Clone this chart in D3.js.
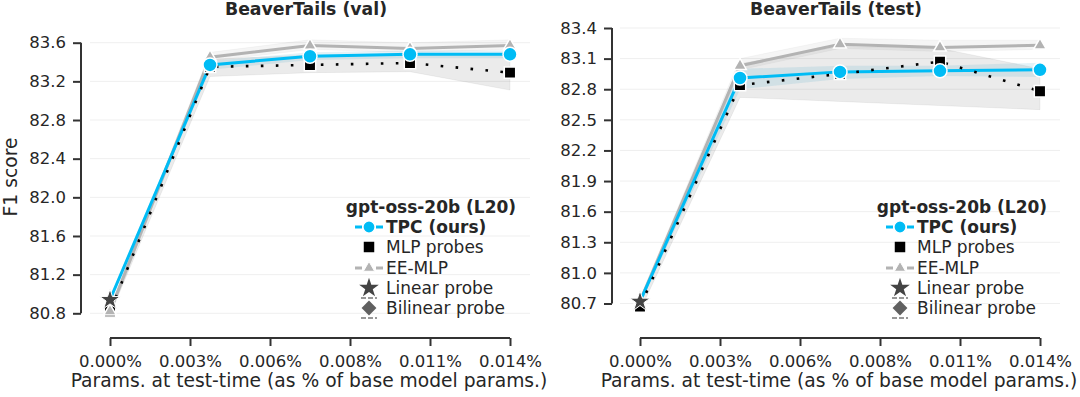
<!DOCTYPE html>
<html>
<head>
<meta charset="utf-8">
<script src="https://cdn.jsdelivr.net/npm/d3@7"></script>
<style>
  body { margin: 0; background: #fff; }
  text { font-family: "DejaVu Sans", sans-serif; fill: #262626; }
</style>
</head>
<body>
<script>
// x positions, in % of base model params
var xVals = [0, 0.0035, 0.007, 0.0105, 0.014];
var xTickVals = [0, 0.0028, 0.0056, 0.0084, 0.0112, 0.014];
var xTickLabels = ["0.000%", "0.003%", "0.006%", "0.008%", "0.011%", "0.014%"];

// BeaverTails (val)
var valYTicks = [80.8, 81.2, 81.6, 82.0, 82.4, 82.8, 83.2, 83.6];
var valTpc = [80.94, 83.37, 83.46, 83.48, 83.48];
var valTpcLo = [80.91, 83.32, 83.42, 83.44, 83.44];
var valTpcHi = [80.97, 83.41, 83.50, 83.52, 83.52];
var valMlp = [80.82, 83.35, 83.37, 83.39, 83.29];
var valMlpLo = [80.78, 83.25, 83.29, 83.30, 83.11];
var valMlpHi = [80.86, 83.43, 83.47, 83.47, 83.47];
var valEe = [80.82, 83.45, 83.57, 83.54, 83.57];
var valEeLo = [80.78, 83.41, 83.53, 83.50, 83.53];
var valEeHi = [80.86, 83.50, 83.63, 83.60, 83.63];
var valLinear = 80.94;

// BeaverTails (test)
var testYTicks = [80.7, 81.0, 81.3, 81.6, 81.9, 82.2, 82.5, 82.8, 83.1, 83.4];
var testTpc = [80.72, 82.91, 82.97, 82.98, 82.99];
var testTpcLo = [80.69, 82.80, 82.90, 82.93, 82.92];
var testTpcHi = [80.75, 83.00, 83.03, 83.03, 83.06];
var testMlp = [80.67, 82.84, 82.95, 83.07, 82.78];
var testMlpLo = [80.63, 82.72, 82.68, 82.64, 82.60];
var testMlpHi = [80.71, 83.05, 83.22, 83.20, 83.00];
var testEe = [80.72, 83.03, 83.24, 83.21, 83.23];
var testEeLo = [80.69, 82.99, 83.20, 83.17, 83.19];
var testEeHi = [80.75, 83.10, 83.30, 83.28, 83.28];
var testLinear = 80.72;

var legendTitle = "gpt-oss-20b (L20)";
var legendLabels = ["TPC", "MLP probes", "EE-MLP", "Linear probe", "Bilinear probe"];

var blue = "#00bcf5",
    grey = "#b3b3b3",
    dark = "#333";

var svg = d3.select("body").append("svg")
    .attr("width", 1080)
    .attr("height", 397);

function zip(lo, hi) {
    return xVals.map(function(x, i) { return {x: x, lo: lo[i], hi: hi[i]}; });
}

function pts(vals) {
    return xVals.map(function(x, i) { return {x: x, y: vals[i]}; });
}

function drawPanel(p) {
    var g = svg.append("g");
    var x = d3.scaleLinear().domain([-0.0007, 0.0147]).range([p.left, p.left + 440]);
    var y = d3.scaleLinear().domain(p.yDomain).range(p.yRange);

    // grid
    g.selectAll("line.grid").data(p.yTicks).enter().append("line")
        .attr("x1", p.left).attr("x2", p.left + 440)
        .attr("y1", function(d) { return y(d); })
        .attr("y2", function(d) { return y(d); })
        .attr("stroke", "#efefef").attr("stroke-width", 1);

    // y axis, offset and trimmed
    var yAxis = d3.axisLeft(y).tickValues(p.yTicks).tickFormat(d3.format(".1f"))
        .tickSize(8).tickPadding(7);
    var ya = g.append("g").attr("transform", "translate(" + (p.left - p.spineOff) + ",0)").call(yAxis);
    ya.select(".domain").attr("d", "M0," + y(p.yTicks[0]) + "V" + y(p.yTicks[p.yTicks.length - 1]));

    // x axis
    var xAxis = d3.axisBottom(x).tickValues(xTickVals)
        .tickFormat(function(d, i) { return xTickLabels[i]; })
        .tickSize(8).tickPadding(9);
    var xa = g.append("g").attr("transform", "translate(0,338)").call(xAxis);
    xa.select(".domain").attr("d", "M" + x(0) + ",0H" + x(0.014));

    [ya, xa].forEach(function(a) {
        a.selectAll(".domain, .tick line").attr("stroke", dark).attr("stroke-width", 2);
        a.selectAll(".tick text").style("font-size", "16.5px").attr("fill", "#262626")
            .style("font-family", "DejaVu Sans");
    });

    g.append("text").attr("x", x(0.007) - 1).attr("y", 387).attr("text-anchor", "middle")
        .style("font-size", "18.7px").text("Params. at test-time (as % of base model params.)");

    g.append("text").attr("x", x(0.007) - 4).attr("y", 15).attr("text-anchor", "middle")
        .style("font-size", "17.3px").style("font-weight", "bold").text(p.title);

    // bands
    var area = d3.area()
        .x(function(d) { return x(d.x); })
        .y0(function(d) { return y(d.lo); })
        .y1(function(d) { return y(d.hi); });
    g.append("path").attr("d", area(zip(p.eeLo, p.eeHi)))
        .attr("fill", "#000").attr("fill-opacity", 0.04)
        .attr("stroke", "#000").attr("stroke-opacity", 0.03);
    g.append("path").attr("d", area(zip(p.mlpLo, p.mlpHi)))
        .attr("fill", "#000").attr("fill-opacity", 0.08)
        .attr("stroke", "#000").attr("stroke-opacity", 0.05);
    g.append("path").attr("d", area(zip(p.tpcLo, p.tpcHi)))
        .attr("fill", "#3aa0c8").attr("fill-opacity", 0.14);

    var line = d3.line()
        .x(function(d) { return x(d.x); })
        .y(function(d) { return y(d.y); });

    g.append("path").attr("d", line(pts(p.ee)))
        .attr("fill", "none").attr("stroke", grey).attr("stroke-width", 3);
    g.append("path").attr("d", line(pts(p.tpc)))
        .attr("fill", "none").attr("stroke", blue).attr("stroke-width", 3);
    g.append("path").attr("d", line(pts(p.mlp)))
        .attr("fill", "none").attr("stroke", "#000").attr("stroke-width", 2.6)
        .attr("stroke-dasharray", "2.6 12.4");

    // markers
    g.selectAll("path.sq").data(pts(p.mlp)).enter().append("path")
        .attr("d", d3.symbol().type(d3.symbolSquare).size(130))
        .attr("transform", function(d) { return "translate(" + x(d.x) + "," + y(d.y) + ")"; })
        .attr("fill", "#000").attr("stroke", "#fff").attr("stroke-width", 1.5);
    g.selectAll("path.tri").data(pts(p.ee)).enter().append("path")
        .attr("d", d3.symbol().type(d3.symbolTriangle).size(70))
        .attr("transform", function(d) { return "translate(" + x(d.x) + "," + y(d.y) + ")"; })
        .attr("fill", grey).attr("stroke", "#fff").attr("stroke-width", 1.5);
    g.selectAll("circle.tpc").data(pts(p.tpc).slice(1)).enter().append("circle")
        .attr("cx", function(d) { return x(d.x); })
        .attr("cy", function(d) { return y(d.y); })
        .attr("r", 7).attr("fill", blue).attr("stroke", "#fff").attr("stroke-width", 1.5);
    g.append("path")
        .attr("d", d3.symbol().type(d3.symbolStar).size(130))
        .attr("transform", "translate(" + x(0) + "," + y(p.linear) + ")")
        .attr("fill", "#444").attr("stroke", "#fff").attr("stroke-width", 1);

    // legend
    var lx = p.legendX, rows = [227, 247, 268, 288, 308];
    var lg = g.append("g");
    lg.append("text").attr("x", lx + 62).attr("y", 213).attr("text-anchor", "middle")
        .style("font-size", "17px").style("font-weight", "bold").text(legendTitle);

    // TPC handle
    lg.append("line").attr("x1", lx - 14).attr("x2", lx + 14).attr("y1", rows[0]).attr("y2", rows[0])
        .attr("stroke", blue).attr("stroke-width", 3).attr("stroke-dasharray", "7 14 7");
    lg.append("circle").attr("cx", lx).attr("cy", rows[0]).attr("r", 6)
        .attr("fill", blue).attr("stroke", "#fff").attr("stroke-width", 1.2);
    // MLP
    lg.append("path").attr("d", d3.symbol().type(d3.symbolSquare).size(110))
        .attr("transform", "translate(" + lx + "," + rows[1] + ")").attr("fill", "#000");
    // EE-MLP
    lg.append("line").attr("x1", lx - 14).attr("x2", lx + 14).attr("y1", rows[2]).attr("y2", rows[2])
        .attr("stroke", grey).attr("stroke-width", 3).attr("stroke-dasharray", "7 14 7");
    lg.append("path").attr("d", d3.symbol().type(d3.symbolTriangle).size(55))
        .attr("transform", "translate(" + lx + "," + rows[2] + ")")
        .attr("fill", grey).attr("stroke", "#fff").attr("stroke-width", 1);
    // Linear
    lg.append("path").attr("d", d3.symbol().type(d3.symbolStar).size(120))
        .attr("transform", "translate(" + lx + "," + rows[3] + ")").attr("fill", "#444");
    // Bilinear: diamond with dashed caps
    [-10, 10].forEach(function(o) {
        lg.append("line").attr("x1", lx - 8).attr("x2", lx + 8)
            .attr("y1", rows[4] + o).attr("y2", rows[4] + o)
            .attr("stroke", "#777").attr("stroke-width", 1.5).attr("stroke-dasharray", "5 2");
    });
    lg.append("path").attr("d", d3.symbol().type(d3.symbolSquare).size(110))
        .attr("transform", "translate(" + lx + "," + rows[4] + ") rotate(45)").attr("fill", "#606060");

    legendLabels.forEach(function(t, i) {
        var tx = lg.append("text").attr("x", lx + 17).attr("y", rows[i] + 6)
            .style("font-size", "17px").text(t);
        if (i === 0) {
            tx.style("font-weight", "bold");
            tx.append("tspan").text(" (ours)");
        }
    });
}

drawPanel({
    left: 90, spineOff: 9, title: "BeaverTails (val)",
    yDomain: [80.8, 83.6], yRange: [313.3, 42.7], yTicks: valYTicks,
    tpc: valTpc, tpcLo: valTpcLo, tpcHi: valTpcHi,
    mlp: valMlp, mlpLo: valMlpLo, mlpHi: valMlpHi,
    ee: valEe, eeLo: valEeLo, eeHi: valEeHi,
    linear: valLinear, legendX: 369
});

drawPanel({
    left: 620, spineOff: 8, title: "BeaverTails (test)",
    yDomain: [80.7, 83.4], yRange: [303.5, 28], yTicks: testYTicks,
    tpc: testTpc, tpcLo: testTpcLo, tpcHi: testTpcHi,
    mlp: testMlp, mlpLo: testMlpLo, mlpHi: testMlpHi,
    ee: testEe, eeLo: testEeLo, eeHi: testEeHi,
    linear: testLinear, legendX: 900
});

svg.append("text")
    .attr("transform", "translate(17,177) rotate(-90)")
    .attr("text-anchor", "middle")
    .style("font-size", "18.7px")
    .text("F1 score");
</script>
</body>
</html>
